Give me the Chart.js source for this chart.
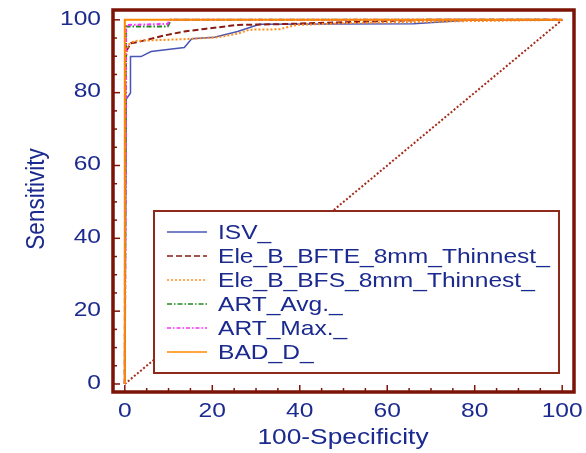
<!DOCTYPE html>
<html>
<head>
<meta charset="utf-8">
<script src="https://cdn.jsdelivr.net/npm/chart.js@4/dist/chart.umd.min.js"></script>
<style>
  body { margin: 0; background: #fff; }
  canvas { display: block; }
</style>
</head>
<body>
<canvas id="roc" width="586" height="453"></canvas>
<script>
// tick labels
const xTicks = [0, 20, 40, 60, 80, 100];
const yTicks = [0, 20, 40, 60, 80, 100];

// ROC curves: 100-specificity (x) and sensitivity (y)
const isvX = [0, 0.3, 1.3, 1.3, 3.7, 6.0, 13.6, 15.3, 20.5, 25.8, 30.8, 66, 80, 100];
const isvY = [0, 78.2, 79.9, 89.9, 89.9, 91.3, 92.4, 94.8, 95.2, 96.8, 98.8, 98.9, 100, 100];

const bfteX = [0, 0.1, 0.5, 1.4, 3.0, 9.0, 13.6, 18.2, 25.8, 35, 69, 100];
const bfteY = [0, 89, 91.8, 93.6, 93.9, 95.7, 96.8, 97.5, 98.6, 98.8, 100, 100];

const bfsX = [0, 0.1, 0.7, 2.2, 13.6, 21.2, 25.8, 28.5, 35.4, 39.2, 51, 75, 100];
const bfsY = [0, 88, 93.1, 94.2, 94.7, 95.2, 96.2, 97.3, 97.4, 98.6, 99.1, 99.6, 100];

const artAvgX = [0, 0.3, 9.8, 10.6, 100];
const artAvgY = [0, 98.2, 98.2, 100, 100];

const artMaxX = [0, 0.3, 9.8, 10.3, 100];
const artMaxY = [0, 98.6, 98.9, 100, 100];

const badX = [0, 0, 100];
const badY = [0, 100, 100];

const refX = [0, 100];
const refY = [0, 100];

const FONT = "'Liberation Sans', Arial, sans-serif";
const TEXT = '#1b2a8e';
const FRAME = '#7b1306';
const STRETCH = 1.17; // the picture's text is a bit wide

const pts = (xs, ys) => xs.map((x, i) => ({ x: x, y: ys[i] }));

const series = [
    { label: 'ISV_', data: pts(isvX, isvY), color: '#4a55b5', width: 1.5, dash: [], order: 5 },
    { label: 'Ele_B_BFTE_8mm_Thinnest_', data: pts(bfteX, bfteY), color: '#8b1a12', width: 2, dash: [6, 3], order: 4 },
    { label: 'Ele_B_BFS_8mm_Thinnest_', data: pts(bfsX, bfsY), color: '#ff8c1a', width: 2, dash: [2, 2], order: 3 },
    { label: 'ART_Avg._', data: pts(artAvgX, artAvgY), color: '#1f8a1f', width: 2, dash: [5, 2, 1.5, 2], order: 2 },
    { label: 'ART_Max._', data: pts(artMaxX, artMaxY), color: '#ff30ff', width: 2, dash: [4, 2, 1.5, 2], order: 1 },
    { label: 'BAD_D_', data: pts(badX, badY), color: '#ff8800', width: 2, dash: [], order: 0 },
];

const datasets = series.map(s => ({
    label: s.label,
    data: s.data,
    borderColor: s.color,
    borderWidth: s.width,
    borderDash: s.dash,
    pointRadius: 0,
    tension: 0,
    fill: false,
    order: s.order,
}));
datasets.push({
    label: 'ref',
    data: pts(refX, refY),
    borderColor: '#a52a1a',
    borderWidth: 2,
    borderDash: [2, 2],
    pointRadius: 0,
    fill: false,
    order: 10,
});

function wideText(ctx, text, x, y, align, rotate) {
    ctx.save();
    ctx.translate(x, y);
    if (rotate) {
        ctx.rotate(-Math.PI / 2);
        ctx.scale(1, STRETCH);
    } else {
        ctx.scale(STRETCH, 1);
    }
    ctx.textAlign = align;
    ctx.fillText(text, 0, 0);
    ctx.restore();
}

// frame, inward ticks, labels and boxed legend
const framePlugin = {
    id: 'frame',
    afterDraw(chart) {
        const ctx = chart.ctx;
        const a = chart.chartArea;
        const xs = chart.scales.x;
        const ys = chart.scales.y;
        ctx.save();
        ctx.strokeStyle = FRAME;
        ctx.lineWidth = 1.5;
        for (let v = 0; v <= 100; v += 5) {
            const len = v % 20 === 0 ? 7 : 4;
            const px = xs.getPixelForValue(v);
            ctx.beginPath();
            ctx.moveTo(px, a.bottom);
            ctx.lineTo(px, a.bottom - len);
            ctx.stroke();
            const py = ys.getPixelForValue(v);
            ctx.beginPath();
            ctx.moveTo(a.left, py);
            ctx.lineTo(a.left + len, py);
            ctx.stroke();
        }
        ctx.lineWidth = 3.5;
        ctx.strokeRect(a.left, a.top, a.right - a.left, a.bottom - a.top);

        // tick labels and titles
        ctx.fillStyle = TEXT;
        ctx.font = '21px ' + FONT;
        ctx.textBaseline = 'middle';
        xTicks.forEach(v => wideText(ctx, String(v), xs.getPixelForValue(v), a.bottom + 19, 'center'));
        yTicks.forEach(v => wideText(ctx, String(v), a.left - 12, ys.getPixelForValue(v) - 1, 'right'));
        ctx.font = '22.5px ' + FONT;
        wideText(ctx, '100-Specificity', 343, 438, 'center');
        wideText(ctx, 'Sensitivity', 37, 199, 'center', true);

        // legend
        const bx = 154, by = 211, bw = 405, bh = 162;
        ctx.fillStyle = '#fff';
        ctx.fillRect(bx, by, bw, bh);
        ctx.lineWidth = 2;
        ctx.strokeStyle = '#8e2a1c';
        ctx.strokeRect(bx, by, bw, bh);
        ctx.font = '21px ' + FONT;
        series.forEach((s, i) => {
            const y = by + 21 + i * 24;
            ctx.strokeStyle = s.color;
            ctx.lineWidth = 1.5;
            ctx.setLineDash(s.dash);
            ctx.beginPath();
            ctx.moveTo(167, y);
            ctx.lineTo(207, y);
            ctx.stroke();
            ctx.setLineDash([]);
            ctx.fillStyle = TEXT;
            wideText(ctx, s.label, 218, y + 1, 'left');
        });
        ctx.restore();
    }
};

new Chart(document.getElementById('roc').getContext('2d'), {
    type: 'line',
    data: { datasets: datasets },
    options: {
        responsive: false,
        animation: false,
        layout: { padding: { top: 10, right: 12, left: 0, bottom: 0 } },
        plugins: { legend: { display: false }, tooltip: { enabled: false } },
        scales: {
            x: {
                type: 'linear',
                min: -2.7,
                max: 102.7,
                afterBuildTicks: s => { s.ticks = xTicks.map(v => ({ value: v })); },
                afterFit: s => { s.height = 61; },
                grid: { display: false, drawTicks: false },
                border: { display: false },
                ticks: { display: false },
            },
            y: {
                type: 'linear',
                min: -2.2,
                max: 102.7,
                afterBuildTicks: s => { s.ticks = yTicks.map(v => ({ value: v })); },
                afterFit: s => { s.width = 113; },
                grid: { display: false, drawTicks: false },
                border: { display: false },
                ticks: { display: false },
            },
        },
    },
    plugins: [framePlugin],
});
</script>
</body>
</html>
